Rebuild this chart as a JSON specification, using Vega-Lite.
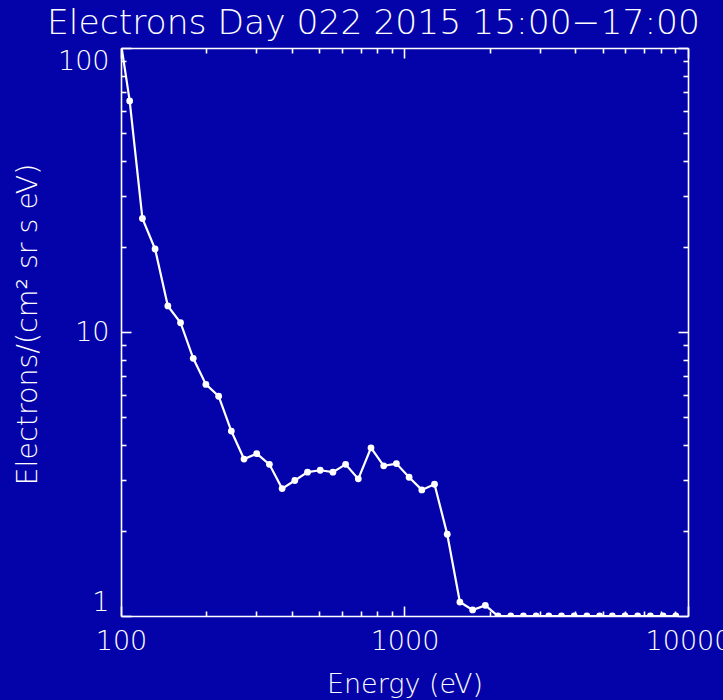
{
  "$schema": "https://vega.github.io/schema/vega-lite/v6.json",
  "autosize": {"type": "none"},
  "width": 567,
  "height": 568,
  "padding": {"left": 121, "top": 48, "right": 35, "bottom": 84},
  "background": "#0303a9",
  "title": {
    "text": "Electrons Day 022 2015 15:00−17:00",
    "font": "DejaVu Sans",
    "fontSize": 34.5,
    "fontWeight": 200,
    "color": "white",
    "anchor": "middle",
    "frame": "group",
    "baseline": "alphabetic",
    "offset": 15,
    "dx": -31,
    "dy": 37
  },
  "config": {
    "view": {"stroke": null},
    "axis": {
      "domainColor": "white",
      "domainWidth": 1.6,
      "tickColor": "white",
      "tickWidth": 1.6,
      "labelColor": "white",
      "titleColor": "white",
      "labelFont": "DejaVu Sans",
      "titleFont": "DejaVu Sans",
      "labelFontSize": 27,
      "titleFontSize": 27,
      "labelFontWeight": 200,
      "titleFontWeight": 200,
      "grid": false,
      "labelOverlap": false,
      "labelBound": false
    }
  },
  "data": {
    "values": [
      {"energy": 96.8, "flux": 128.7},
      {"energy": 107.3, "flux": 65.1},
      {"energy": 119.0, "flux": 25.1},
      {"energy": 131.9, "flux": 19.6},
      {"energy": 146.3, "flux": 12.35},
      {"energy": 162.2, "flux": 10.78},
      {"energy": 179.8, "flux": 8.08},
      {"energy": 199.3, "flux": 6.54},
      {"energy": 221.0, "flux": 5.94},
      {"energy": 245.0, "flux": 4.48},
      {"energy": 271.6, "flux": 3.57},
      {"energy": 301.1, "flux": 3.73},
      {"energy": 333.8, "flux": 3.42},
      {"energy": 370.1, "flux": 2.81},
      {"energy": 410.3, "flux": 3.0},
      {"energy": 454.9, "flux": 3.21},
      {"energy": 504.3, "flux": 3.26},
      {"energy": 559.1, "flux": 3.21},
      {"energy": 619.9, "flux": 3.42},
      {"energy": 687.1, "flux": 3.04},
      {"energy": 761.8, "flux": 3.91},
      {"energy": 844.6, "flux": 3.38},
      {"energy": 936.3, "flux": 3.44},
      {"energy": 1038, "flux": 3.08},
      {"energy": 1151, "flux": 2.78},
      {"energy": 1276, "flux": 2.91},
      {"energy": 1415, "flux": 1.94},
      {"energy": 1568, "flux": 1.12},
      {"energy": 1739, "flux": 1.05},
      {"energy": 1928, "flux": 1.09},
      {"energy": 2137, "flux": 1.0},
      {"energy": 2369, "flux": 1.0},
      {"energy": 2627, "flux": 1.0},
      {"energy": 2912, "flux": 1.0},
      {"energy": 3228, "flux": 1.0},
      {"energy": 3579, "flux": 1.0},
      {"energy": 3968, "flux": 1.0},
      {"energy": 4399, "flux": 1.0},
      {"energy": 4877, "flux": 1.0},
      {"energy": 5407, "flux": 1.0},
      {"energy": 5995, "flux": 1.0},
      {"energy": 6646, "flux": 1.0},
      {"energy": 7368, "flux": 1.0},
      {"energy": 8169, "flux": 1.0},
      {"energy": 9057, "flux": 1.0}
    ]
  },
  "layer": [
    {
      "mark": {"type": "line", "color": "white", "strokeWidth": 2.2, "clip": true},
      "encoding": {
        "x": {
          "field": "energy", "type": "quantitative",
          "scale": {"type": "log", "domain": [100, 10000], "nice": false},
          "axis": {
            "orient": "bottom",
            "title": "Energy (eV)",
            "values": [100, 200, 300, 400, 500, 600, 700, 800, 900, 1000, 2000, 3000, 4000, 5000, 6000, 7000, 8000, 9000, 10000],
            "labelExpr": "(datum.value == 100 || datum.value == 1000 || datum.value == 10000) ? '' + datum.value : ''",
            "tickSize": {"condition": {"test": "datum.value == 100 || datum.value == 1000 || datum.value == 10000", "value": -10}, "value": -5},
            "labelPadding": 22,
            "labelFlush": false,
            "titleBaseline": "alphabetic",
            "titleY": 76
          }
        },
        "y": {
          "field": "flux", "type": "quantitative",
          "scale": {"type": "log", "domain": [1, 100], "nice": false},
          "axis": {
            "orient": "left",
            "title": "Electrons/(cm² sr s eV)",
            "titleFontSize": 28.5,
            "values": [1, 2, 3, 4, 5, 6, 7, 8, 9, 10, 20, 30, 40, 50, 60, 70, 80, 90, 100],
            "labelExpr": "(datum.value == 1 || datum.value == 10 || datum.value == 100) ? '' + datum.value : ''",
            "tickSize": {"condition": {"test": "datum.value == 1 || datum.value == 10 || datum.value == 100", "value": -10}, "value": -5},
            "labelPadding": 22,
            "labelFlush": true,
            "titleBaseline": "alphabetic",
            "titleAlign": "center",
            "titleX": -85,
            "titleY": 276
          }
        }
      }
    },
    {
      "mark": {"type": "point", "filled": true, "color": "white", "opacity": 1, "size": 46, "shape": "circle", "clip": true},
      "encoding": {
        "x": {
          "field": "energy", "type": "quantitative",
          "scale": {"type": "log", "domain": [100, 10000], "nice": false},
          "axis": {
            "orient": "top",
            "title": null,
            "labels": false,
            "values": [100, 200, 300, 400, 500, 600, 700, 800, 900, 1000, 2000, 3000, 4000, 5000, 6000, 7000, 8000, 9000, 10000],
            "tickSize": {"condition": {"test": "datum.value == 100 || datum.value == 1000 || datum.value == 10000", "value": -10}, "value": -5}
          }
        },
        "y": {
          "field": "flux", "type": "quantitative",
          "scale": {"type": "log", "domain": [1, 100], "nice": false},
          "axis": {
            "orient": "right",
            "title": null,
            "labels": false,
            "values": [1, 2, 3, 4, 5, 6, 7, 8, 9, 10, 20, 30, 40, 50, 60, 70, 80, 90, 100],
            "tickSize": {"condition": {"test": "datum.value == 1 || datum.value == 10 || datum.value == 100", "value": -10}, "value": -5}
          }
        }
      }
    }
  ],
  "resolve": {"axis": {"x": "independent", "y": "independent"}}
}
